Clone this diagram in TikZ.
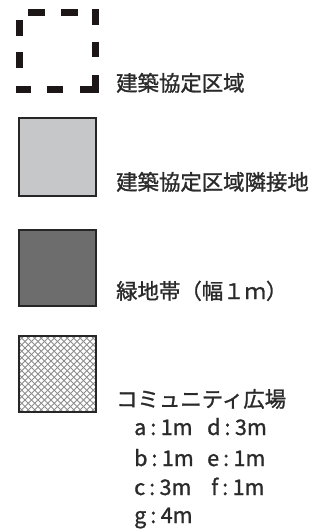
\documentclass[tikz,border=0pt]{standalone}
\usepackage{fontspec}
\setmainfont{Noto Sans CJK JP}[FakeBold=1.2]
\definecolor{dk}{HTML}{1C1716}
\definecolor{txt}{HTML}{2A2A2A}
\definecolor{lg}{HTML}{C6C7C9}
\definecolor{dg}{HTML}{6D6D6D}
\definecolor{bd}{HTML}{262626}
\definecolor{ht}{HTML}{8C8C8C}
\newcommand{\cln}{\hspace{4pt}:\hspace{4.5pt}}
\begin{document}
\begin{tikzpicture}[x=1pt,y=-1pt,
  lbl/.style={anchor=base west,inner sep=0pt,font=\fontsize{21.4}{24}\selectfont,text=txt},
  sm/.style={anchor=base west,inner sep=0pt,font=\fontsize{21.5}{24}\selectfont,text=txt},
  dsh/.style={line width=7pt,draw=dk,line join=miter},
  box/.style={line width=2pt,draw=bd},
  hatch/.style={line width=0.8pt,draw=ht}]
\useasboundingbox (0,0) rectangle (329,530);
% dashed boundary legend
\draw[dsh] (28,12.5) -- (45,12.5);
\draw[dsh] (61,12.5) -- (78,12.5);
\draw[dsh] (95.5,9) -- (95.5,25);
\draw[dsh] (95.5,42) -- (95.5,57);
\draw[dsh] (80,89) -- (95.5,89) -- (95.5,75);
\draw[dsh] (19.5,20) -- (19.5,36);
\draw[dsh] (19.5,52) -- (19.5,68);
\draw[dsh] (16,89) -- (31,89);
\draw[dsh] (47,89) -- (63,89);
\node[lbl] (t1) at (116,91) {建築協定区域};
% light grey
\draw[box,fill=lg] (19,118) rectangle (96,196);
\node[lbl] (t2) at (116,190) {建築協定区域隣接地};
% dark grey
\draw[box,fill=dg] (19,230) rectangle (96,306);
\node[lbl] (t3) at (116,299) {緑地帯（幅１ｍ）};
% hatched
\begin{scope}
\clip (19,336) rectangle (96,412);
\foreach \i in {-84,-77.5,...,90} {
  \draw[hatch] (19+\i,336) -- ++(80,80);
  \draw[hatch] (19+\i,412) -- ++(80,-80);
}
\end{scope}
\draw[box,fill=none] (19,336) rectangle (96,412);
\node[lbl] (t4) at (116,407) {コミュニティ広場};
\node[sm] (a) at (134,435) {a\cln 1m};
\node[sm] (d) at (207,435) {d\cln 3m};
\node[sm] (b) at (134,466) {b\cln 1m};
\node[sm] (e) at (207,466) {e\cln 1m};
\node[sm] (c) at (134,495) {c\cln 3m};
\node[sm] (f) at (211,495) {f\cln 1m};
\node[sm] (g) at (134,523) {g\cln 4m};
\end{tikzpicture}
\end{document}
